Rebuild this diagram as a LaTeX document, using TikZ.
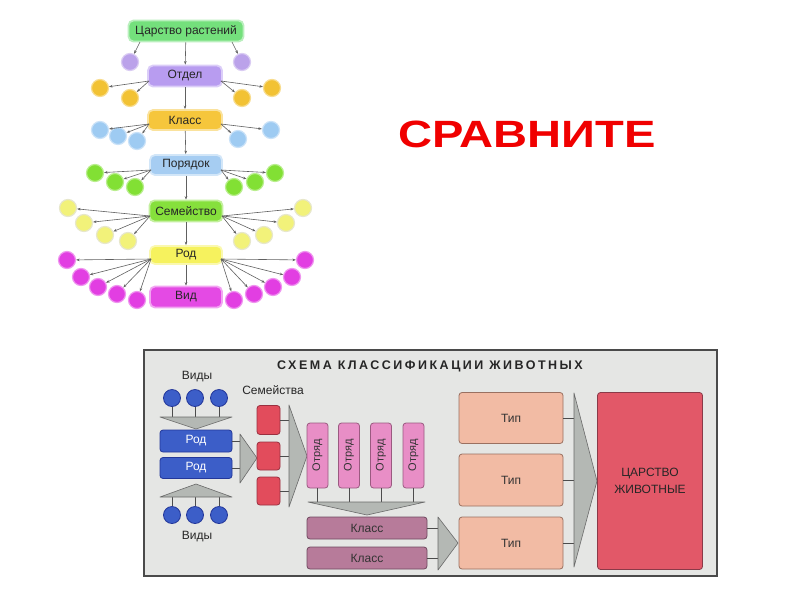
\documentclass[tikz,border=0pt]{standalone}
\usepackage{fontspec}
\setmainfont{Liberation Sans}
\newfontfamily\titlefont[LetterSpace=20]{Liberation Sans}
\usetikzlibrary{arrows.meta,calc}
\definecolor{cTsar}{HTML}{74E07C}
\definecolor{cOtdel}{HTML}{B89CF0}
\definecolor{cKlass}{HTML}{F6C63C}
\definecolor{cPor}{HTML}{A6CDF2}
\definecolor{cSem}{HTML}{86E03C}
\definecolor{cRodT}{HTML}{F6F25E}
\definecolor{cVid}{HTML}{E44AE4}
\definecolor{ccPurple}{HTML}{BBA2EA}
\definecolor{ccOrange}{HTML}{F2C234}
\definecolor{ccBlue}{HTML}{9ECBF2}
\definecolor{ccGreen}{HTML}{82E034}
\definecolor{ccYellow}{HTML}{F2F27A}
\definecolor{ccMag}{HTML}{E23EE2}
\definecolor{cRed}{HTML}{F00000}
\definecolor{fBg}{HTML}{E5E6E4}
\definecolor{fBorder}{HTML}{4A4A4A}
\definecolor{bBlue}{HTML}{3C5EC8}
\definecolor{bBlueD}{HTML}{23379A}
\definecolor{bRed}{HTML}{E24C5C}
\definecolor{bRedD}{HTML}{9A3040}
\definecolor{bPink}{HTML}{E88EC6}
\definecolor{bPinkD}{HTML}{9A5A80}
\definecolor{bMauve}{HTML}{B77B9A}
\definecolor{bMauveD}{HTML}{704A60}
\definecolor{bSalmon}{HTML}{F2BBA4}
\definecolor{bSalmonD}{HTML}{9A7060}
\definecolor{bKing}{HTML}{E25868}
\definecolor{bKingD}{HTML}{8A3A48}
\definecolor{triF}{HTML}{B4B8B4}
\definecolor{triD}{HTML}{6A6A6A}
\begin{document}
\begin{tikzpicture}[x=1pt,y=-1pt,
  lvl/.style={rounded corners=5pt, fill=#1, draw=#1!50!white, line width=1.8pt,
    font=\fontsize{12}{13}\selectfont, text=black!85, minimum height=20pt, inner sep=0pt},
  circ/.style={circle, fill=#1, draw=#1!55!white, line width=1.2pt, minimum size=17pt, inner sep=0pt},
  arr/.style={-{Stealth[length=3.5pt,width=2.6pt]}, draw=gray!75!black, line width=0.6pt},
  bbox/.style 2 args={rounded corners=3pt, fill=#1, draw=#2, line width=0.8pt, inner sep=0pt,
    font=\fontsize{12}{14}\selectfont, text=black!80},
  bcirc/.style={circle, fill=bBlue, draw=bBlueD, line width=0.8pt, minimum size=17pt, inner sep=0pt},
  tri/.style={fill=triF, draw=triD, line width=0.6pt, line join=round},
  ln/.style={draw=black!70, line width=0.8pt}
]
\useasboundingbox (0,0) rectangle (800,600);
\fill[white] (0,0) rectangle (800,600);

% ---------------- top: plant hierarchy ----------------
\node[lvl=cTsar, minimum width=115pt, minimum height=21pt] (tsar) at (186,31) {Царство растений};
\node[lvl=cOtdel, minimum width=74pt, minimum height=21pt] (otdel) at (185,76) {Отдел};
\node[lvl=cKlass, minimum width=74pt] (klass) at (185,120) {Класс};
\node[lvl=cPor, minimum width=72pt] (por) at (186,165) {Порядок};
\node[lvl=cSem, minimum width=73pt, minimum height=21pt] (sem) at (186,211) {Семейство};
\node[lvl=cRodT, minimum width=72pt, minimum height=18pt] (rodt) at (186,255) {Род};
\node[lvl=cVid, minimum width=72pt, minimum height=21pt] (vid) at (186,297) {Вид};

\draw[arr] (tsar) -- (otdel);
\draw[arr] (otdel) -- (klass);
\draw[arr] (klass) -- (por);
\draw[arr] (por) -- (sem);
\draw[arr] (sem) -- (rodt);
\draw[arr] (rodt) -- (vid);

% start points of fans
\coordinate (tsarL) at (140,42);  \coordinate (tsarR) at (232,42);
\coordinate (otdelL) at (149,81); \coordinate (otdelR) at (221,81);
\coordinate (klassL) at (149,124); \coordinate (klassR) at (221,124);
\coordinate (porL) at (151,170); \coordinate (porR) at (221,170);
\coordinate (semL) at (150,216); \coordinate (semR) at (222,216);
\coordinate (rodtL) at (151,259); \coordinate (rodtR) at (221,259);

% circles
\node[circ=ccPurple] (p1) at (130,62) {};
\node[circ=ccPurple] (p2) at (242,62) {};
\foreach \n in {p1} \draw[arr] (tsarL) -- (\n);
\foreach \n in {p2} \draw[arr] (tsarR) -- (\n);

\node[circ=ccOrange] (o1) at (100,88) {};
\node[circ=ccOrange] (o2) at (130,98) {};
\node[circ=ccOrange] (o3) at (242,98) {};
\node[circ=ccOrange] (o4) at (272,88) {};
\foreach \n in {o1,o2} \draw[arr] (otdelL) -- (\n);
\foreach \n in {o3,o4} \draw[arr] (otdelR) -- (\n);

\node[circ=ccBlue] (k1) at (100,130) {};
\node[circ=ccBlue] (k2) at (118,136) {};
\node[circ=ccBlue] (k3) at (137,141) {};
\node[circ=ccBlue] (k4) at (238,139) {};
\node[circ=ccBlue] (k5) at (271,130) {};
\foreach \n in {k1,k2,k3} \draw[arr] (klassL) -- (\n);
\foreach \n in {k4,k5} \draw[arr] (klassR) -- (\n);

\node[circ=ccGreen] (r1) at (95,173) {};
\node[circ=ccGreen] (r2) at (115,182) {};
\node[circ=ccGreen] (r3) at (135,187) {};
\node[circ=ccGreen] (r4) at (234,187) {};
\node[circ=ccGreen] (r5) at (255,182) {};
\node[circ=ccGreen] (r6) at (275,173) {};
\foreach \n in {r1,r2,r3} \draw[arr] (porL) -- (\n);
\foreach \n in {r4,r5,r6} \draw[arr] (porR) -- (\n);

\node[circ=ccYellow, draw=ccYellow!60!gray!40!white] (s1) at (68,208) {};
\node[circ=ccYellow, draw=ccYellow!60!gray!40!white] (s2) at (84,223) {};
\node[circ=ccYellow, draw=ccYellow!60!gray!40!white] (s3) at (105,235) {};
\node[circ=ccYellow, draw=ccYellow!60!gray!40!white] (s4) at (128,241) {};
\node[circ=ccYellow, draw=ccYellow!60!gray!40!white] (s5) at (242,241) {};
\node[circ=ccYellow, draw=ccYellow!60!gray!40!white] (s6) at (264,235) {};
\node[circ=ccYellow, draw=ccYellow!60!gray!40!white] (s7) at (286,223) {};
\node[circ=ccYellow, draw=ccYellow!60!gray!40!white] (s8) at (303,208) {};
\foreach \n in {s1,s2,s3,s4} \draw[arr] (semL) -- (\n);
\foreach \n in {s5,s6,s7,s8} \draw[arr] (semR) -- (\n);

\node[circ=ccMag] (g1) at (67,260) {};
\node[circ=ccMag] (g2) at (81,277) {};
\node[circ=ccMag] (g3) at (98,287) {};
\node[circ=ccMag] (g4) at (117,294) {};
\node[circ=ccMag] (g5) at (137,300) {};
\node[circ=ccMag] (g6) at (234,300) {};
\node[circ=ccMag] (g7) at (254,294) {};
\node[circ=ccMag] (g8) at (273,287) {};
\node[circ=ccMag] (g9) at (292,277) {};
\node[circ=ccMag] (g10) at (305,260) {};
\foreach \n in {g1,g2,g3,g4,g5} \draw[arr] (rodtL) -- (\n);
\foreach \n in {g6,g7,g8,g9,g10} \draw[arr] (rodtR) -- (\n);

% ---------------- СРАВНИТЕ ----------------
\node[font=\bfseries\fontsize{38}{40}\selectfont, text=cRed, inner sep=0pt] (cmp) at (527,134) {\scalebox{1.24}[1]{СРАВНИТЕ}};

% ---------------- bottom: animal scheme ----------------
\fill[fBg] (144,350) rectangle (717,576);
\draw[fBorder, line width=1.6pt] (144,350) rectangle (717,576);
\node[font=\titlefont\bfseries\fontsize{12.5}{14}\selectfont, text=black!85] (title) at (430,366) {СХЕМА КЛАССИФИКАЦИИ ЖИВОТНЫХ};

\node[font=\fontsize{12}{14}\selectfont, text=black!85] (vidyT) at (197,377) {Виды};
\node[font=\fontsize{12}{14}\selectfont, text=black!85] (vidyB) at (197,537) {Виды};
\node[font=\fontsize{12}{14}\selectfont, text=black!85] (fams) at (273,390) {Семейства};

% species circles
\node[bcirc] (vt1) at (172,398) {};
\node[bcirc] (vt2) at (195,398) {};
\node[bcirc] (vt3) at (219,398) {};
\node[bcirc] (vb1) at (172,515) {};
\node[bcirc] (vb2) at (195,515) {};
\node[bcirc] (vb3) at (219,515) {};

% triangles
\coordinate (t1b) at (196,417);
\coordinate (t2b) at (196,497);
\coordinate (t3b) at (240,458);
\coordinate (t4b) at (289,456);
\coordinate (t5b) at (367,502);
\coordinate (t6b) at (438,543);
\coordinate (t7b) at (574,481);
\foreach \n in {vt1,vt2,vt3} \draw[ln] (\n.south) -- (\n.south |- t1b);
\foreach \n in {vb1,vb2,vb3} \draw[ln] (\n.north) -- (\n.north |- t2b);
\draw[tri] (160,417) -- (232,417) -- (196,429) -- cycle;
\draw[tri] (160,497) -- (232,497) -- (196,484) -- cycle;

% genus
\node[bbox={bBlue}{bBlueD}, minimum width=72pt, minimum height=22pt, text=white] (rod1) at (196,441) {Род};
\node[bbox={bBlue}{bBlueD}, minimum width=72pt, minimum height=21pt, text=white] (rod2) at (196,468) {Род};
\foreach \n in {rod1,rod2} \draw[ln] (\n.east) -- (\n.east -| t3b);
\draw[tri] (240,434) -- (240,483) -- (257,458) -- cycle;

% families
\node[bbox={bRed}{bRedD}, minimum width=23pt, minimum height=29pt] (f1) at (268.5,420) {};
\node[bbox={bRed}{bRedD}, minimum width=23pt, minimum height=28pt] (f2) at (268.5,456) {};
\node[bbox={bRed}{bRedD}, minimum width=23pt, minimum height=28pt] (f3) at (268.5,491) {};
\foreach \n in {f1,f2,f3} \draw[ln] (\n.east) -- (\n.east -| t4b);
\draw[tri] (289,405) -- (289,507) -- (307,456) -- cycle;

% orders
\foreach \n/\x in {or1/317.5,or2/349,or3/381,or4/413.5}
  \node[bbox={bPink}{bPinkD}, minimum width=21pt, minimum height=65pt] (\n) at (\x,455.5) {\rotatebox{90}{\fontsize{11}{12}\selectfont Отряд}};
\foreach \n in {or1,or2,or3,or4} \draw[ln] (\n.south) -- (\n.south |- t5b);
\draw[tri] (308,502) -- (425,502) -- (367,515) -- cycle;

% classes
\node[bbox={bMauve}{bMauveD}, minimum width=120pt, minimum height=22pt] (cl1) at (367,528) {Класс};
\node[bbox={bMauve}{bMauveD}, minimum width=120pt, minimum height=22pt] (cl2) at (367,558) {Класс};
\foreach \n in {cl1,cl2} \draw[ln] (\n.east) -- (\n.east -| t6b);
\draw[tri] (438,517) -- (438,570) -- (458,543) -- cycle;

% phyla
\node[bbox={bSalmon}{bSalmonD}, minimum width=104pt, minimum height=51pt] (tp1) at (511,418) {Тип};
\node[bbox={bSalmon}{bSalmonD}, minimum width=104pt, minimum height=52pt] (tp2) at (511,480) {Тип};
\node[bbox={bSalmon}{bSalmonD}, minimum width=104pt, minimum height=52pt] (tp3) at (511,543) {Тип};
\foreach \n in {tp1,tp2,tp3} \draw[ln] (\n.east) -- (\n.east -| t7b);
\draw[tri] (574,393) -- (574,567) -- (597,481) -- cycle;

% kingdom
\node[bbox={bKing}{bKingD}, minimum width=105pt, minimum height=177pt, align=center,
  font=\fontsize{12}{17}\selectfont, text=black!85] (king) at (650,481) {ЦАРСТВО\\ЖИВОТНЫЕ};
\end{tikzpicture}
\end{document}
